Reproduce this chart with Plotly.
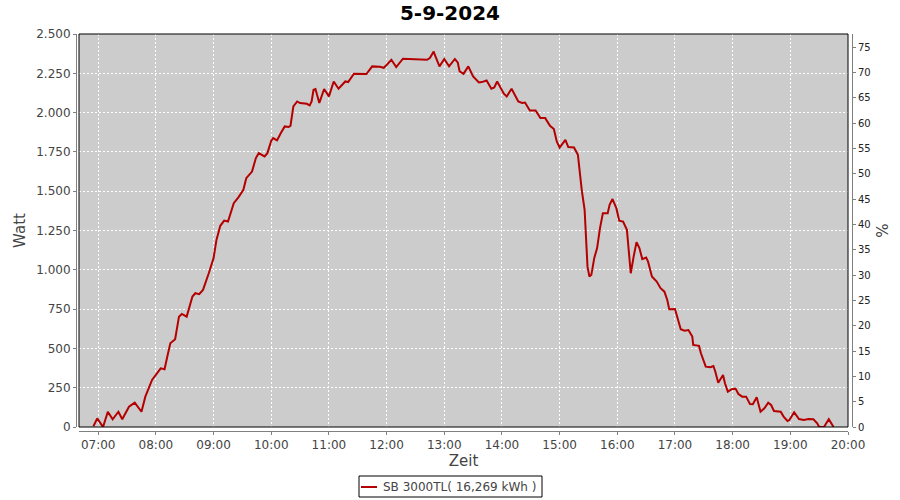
import plotly.graph_objects as go

# ---- data ----
day = "2024-09-05"
times = [
    "06:55", "06:59", "07:05", "07:10", "07:15", "07:21", "07:25", "07:32", "07:38", "07:45",
    "07:49", "07:53", "07:56", "08:05", "08:09", "08:12", "08:15", "08:20", "08:24", "08:27",
    "08:32", "08:38", "08:41", "08:45", "08:49", "08:55", "09:00", "09:03", "09:07", "09:11",
    "09:15", "09:21", "09:26", "09:31", "09:34", "09:40", "09:44", "09:47", "09:53", "09:56",
    "10:00", "10:02", "10:06", "10:10", "10:14", "10:18", "10:20", "10:23", "10:27", "10:30",
    "10:37", "10:40", "10:42", "10:44", "10:46", "10:50", "10:55", "11:00", "11:05", "11:10",
    "11:17", "11:20", "11:26", "11:39", "11:45", "11:53", "11:57", "12:00", "12:05", "12:10",
    "12:17", "12:42", "12:45", "12:49", "12:50", "12:55", "13:00", "13:05", "13:11", "13:14",
    "13:16", "13:20", "13:25", "13:30", "13:36", "13:39", "13:44", "13:49", "13:52", "13:55",
    "14:02", "14:05", "14:10", "14:17", "14:21", "14:24", "14:29", "14:35", "14:40", "14:45",
    "14:50", "14:54", "14:57", "15:00", "15:06", "15:09", "15:15", "15:19", "15:21", "15:23",
    "15:26", "15:28", "15:29", "15:31", "15:33", "15:36", "15:39", "15:42", "15:45", "15:50",
    "15:52", "15:55", "15:59", "16:02", "16:06", "16:10", "16:12", "16:14", "16:17", "16:20",
    "16:23", "16:26", "16:30", "16:32", "16:36", "16:41", "16:45", "16:49", "16:52", "16:54",
    "17:00", "17:03", "17:06", "17:10", "17:14", "17:18", "17:19", "17:25", "17:27", "17:32",
    "17:37", "17:40", "17:42", "17:45", "17:47", "17:50", "17:52", "17:55", "17:59", "18:03",
    "18:06", "18:10", "18:14", "18:18", "18:21", "18:25", "18:29", "18:33", "18:37", "18:40",
    "18:43", "18:50", "18:53", "18:57", "18:59", "19:04", "19:09", "19:14", "19:19", "19:24",
    "19:28", "19:30", "19:35", "19:40", "19:45",
]
watts = [
    5, 55, 0, 97, 49, 97, 49, 129, 155, 97,
    193, 257, 299, 373, 367, 452, 533, 558, 702, 719,
    702, 830, 851, 845, 872, 978, 1074, 1190, 1280, 1313,
    1307, 1424, 1462, 1509, 1583, 1625, 1711, 1742, 1721, 1742,
    1821, 1838, 1823, 1870, 1912, 1908, 1916, 2039, 2071, 2061,
    2056, 2046, 2071, 2145, 2150, 2061, 2150, 2103, 2198, 2152,
    2198, 2194, 2247, 2245, 2294, 2292, 2285, 2303, 2336, 2290,
    2343, 2336, 2347, 2389, 2370, 2294, 2341, 2294, 2341, 2319,
    2262, 2247, 2294, 2230, 2192, 2194, 2204, 2152, 2160, 2198,
    2120, 2103, 2152, 2071, 2061, 2064, 2014, 2014, 1965, 1965,
    1916, 1895, 1816, 1778, 1827, 1781, 1778, 1732, 1615, 1509,
    1381, 1190, 1020, 957, 968, 1074, 1138, 1265, 1360, 1360,
    1413, 1450, 1392, 1313, 1307, 1254, 1084, 978, 1084, 1176,
    1138, 1068, 1078, 1052, 957, 925, 883, 861, 808, 749,
    751, 681, 622, 613, 617, 575, 522, 516, 469, 384,
    380, 388, 352, 282, 299, 331, 278, 225, 240, 244,
    210, 193, 193, 146, 145, 189, 97, 119, 155, 140,
    102, 97, 66, 38, 45, 94, 51, 45, 51, 49,
    24, 0, 0, 50, 0,
]
series_name = "SB 3000TL( 16,269 kWh )"
chart_title = "5-9-2024"
x_title = "Zeit"
y_title = "Watt"
y2_title = "%"
watt_ticks = [0, 250, 500, 750, 1000, 1250, 1500, 1750, 2000, 2250, 2500]
pct_ticks = [0, 5, 10, 15, 20, 25, 30, 35, 40, 45, 50, 55, 60, 65, 70, 75]
pct_max = 77.6

x_vals = [f"{day} {t}" for t in times]

FONT = "DejaVu Sans"
GREY = "#808080"
LABEL = "#444444"
LINE_COLOR = "#b40000"

fig = go.Figure()
fig.add_trace(go.Scatter(
    x=x_vals, y=watts, mode="lines", name=series_name,
    line=dict(color=LINE_COLOR, width=2),
    showlegend=False,
))
# empty trace so that the right-hand % axis is drawn
fig.add_trace(go.Scatter(
    x=[], y=[], yaxis="y2", mode="lines", showlegend=False, hoverinfo="skip",
))

# layout geometry (paper area spans the offset axis lines)
PL, PR, PT, PB = 76, 852, 34, 431
PW, PH = PR - PL, PB - PT
xdom = [3 / PW, (PW - 4) / PW]
ydom = [4 / PH, 1.0]


def px_x(p):
    return (p - PL) / PW


def px_y(p):
    return (PB - p) / PH


fig.update_layout(
    width=900, height=500,
    margin=dict(l=PL, r=900 - PR, t=PT, b=500 - PB),
    paper_bgcolor="white",
    plot_bgcolor="#cccccc",
    separators=",.",
    font=dict(family=FONT, color=LABEL, size=12),
    title=dict(text=f"<b>{chart_title}</b>", x=0.5, xanchor="center",
               y=1 - 13 / 500, yanchor="middle",
               font=dict(family=FONT, size=20, color="black")),
    xaxis=dict(
        type="date", domain=xdom, anchor="free", position=0, automargin=False,
        range=[f"{day} 06:40", f"{day} 20:00"],
        dtick=3600000, tick0=f"{day} 07:00", tickformat="%H:%M",
        showgrid=True, gridcolor="white", griddash="2px,2px", gridwidth=1,
        showline=True, linecolor=GREY, linewidth=1,
        ticks="outside", ticklen=3, tickcolor=GREY,
        tickfont=dict(family=FONT, size=12, color=LABEL),
        title=dict(text=x_title, font=dict(family=FONT, size=15, color=LABEL), standoff=3),
        zeroline=False,
    ),
    yaxis=dict(
        domain=ydom, anchor="free", position=0, automargin=False,
        range=[0, 2500], tickvals=watt_ticks, tickformat=",.0f",
        showgrid=True, gridcolor="white", griddash="2px,2px", gridwidth=1,
        showline=True, linecolor=GREY, linewidth=1,
        ticks="outside", ticklen=3, tickcolor=GREY,
        tickfont=dict(family=FONT, size=12, color=LABEL),
        title=dict(text=y_title, font=dict(family=FONT, size=15, color=LABEL), standoff=5),
        zeroline=False,
    ),
    yaxis2=dict(
        overlaying="y", side="right", anchor="free", position=1, automargin=False,
        range=[0, pct_max], tickvals=pct_ticks,
        showgrid=False, zeroline=False,
        showline=True, linecolor=GREY, linewidth=1,
        ticks="outside", ticklen=3, tickcolor=GREY,
        tickfont=dict(family=FONT, size=10, color="#222222"),
        title=dict(text=y2_title, font=dict(family=FONT, size=15, color=LABEL), standoff=7),
    ),
    shapes=[
        # plot outline
        dict(type="rect", xref="paper", yref="paper",
             x0=xdom[0], x1=xdom[1], y0=ydom[0], y1=ydom[1],
             line=dict(color="black", width=1), layer="above"),
        # legend box
        dict(type="rect", xref="paper", yref="paper",
             x0=px_x(359), x1=px_x(542), y0=px_y(497), y1=px_y(476),
             line=dict(color="black", width=1), fillcolor="white", layer="above"),
        # legend line sample
        dict(type="line", xref="paper", yref="paper",
             x0=px_x(361), x1=px_x(377), y0=px_y(487), y1=px_y(487),
             line=dict(color=LINE_COLOR, width=2), layer="above"),
    ],
    annotations=[
        dict(text=series_name, xref="paper", yref="paper",
             x=px_x(381), y=px_y(487), xanchor="left", yanchor="middle",
             showarrow=False, font=dict(family=FONT, size=12, color=LABEL)),
    ],
)

fig.write_html("out.html", post_script="document.body.style.margin='0';",
               config={"displayModeBar": False})
